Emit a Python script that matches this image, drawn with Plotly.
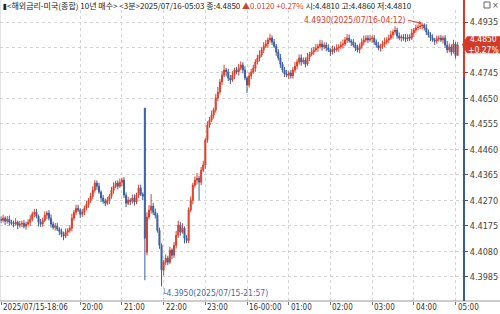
import pandas as pd
import plotly.graph_objects as go

# ---------------- data (3-minute bars, 2025/07/15 18:06 -> 2025/07/16 05:03) ----------------
start_time = "2025-07-15 18:06"
n_bars = 220
times = pd.date_range(start_time, periods=n_bars, freq="3min")

opens = [
    4.4200, 4.4196, 4.4204, 4.4193, 4.4200, 4.4189, 4.4185, 4.4182, 4.4189, 4.4178,
    4.4182, 4.4185, 4.4174, 4.4182, 4.4189, 4.4200, 4.4219, 4.4226, 4.4211, 4.4189,
    4.4182, 4.4196, 4.4215, 4.4223, 4.4204, 4.4182, 4.4170, 4.4174, 4.4163, 4.4155,
    4.4144, 4.4137, 4.4152, 4.4159, 4.4167, 4.4204, 4.4226, 4.4241, 4.4234, 4.4219,
    4.4226, 4.4241, 4.4256, 4.4271, 4.4286, 4.4308, 4.4335, 4.4323, 4.4301, 4.4279,
    4.4267, 4.4260, 4.4271, 4.4286, 4.4308, 4.4323, 4.4335, 4.4323, 4.4338, 4.4346,
    4.4290, 4.4260, 4.4271, 4.4267, 4.4279, 4.4264, 4.4290, 4.4316, 4.4293, 4.4614,
    4.4077, 4.4208, 4.4234, 4.4249, 4.4226, 4.4215, 4.4159, 4.4103, 4.4010, 4.4040,
    4.4055, 4.4040, 4.4085, 4.4066, 4.4103, 4.4140, 4.4178, 4.4152, 4.4167, 4.4129,
    4.4121, 4.4234, 4.4271, 4.4327, 4.4346, 4.4353, 4.4338, 4.4383, 4.4402, 4.4495,
    4.4551, 4.4570, 4.4588, 4.4607, 4.4652, 4.4674, 4.4711, 4.4737, 4.4756, 4.4749,
    4.4726, 4.4719, 4.4737, 4.4756, 4.4749, 4.4763, 4.4775, 4.4756, 4.4726, 4.4700,
    4.4734, 4.4749, 4.4763, 4.4786, 4.4801, 4.4812, 4.4831, 4.4845, 4.4853, 4.4868,
    4.4875, 4.4860, 4.4845, 4.4823, 4.4801, 4.4778, 4.4756, 4.4741, 4.4737, 4.4745,
    4.4734, 4.4756, 4.4771, 4.4786, 4.4801, 4.4786, 4.4793, 4.4778, 4.4804, 4.4816,
    4.4823, 4.4831, 4.4838, 4.4845, 4.4853, 4.4842, 4.4849, 4.4838, 4.4831, 4.4823,
    4.4834, 4.4831, 4.4838, 4.4842, 4.4849, 4.4853, 4.4868, 4.4875, 4.4864, 4.4860,
    4.4849, 4.4838, 4.4831, 4.4845, 4.4860, 4.4868, 4.4875, 4.4868, 4.4872, 4.4875,
    4.4860, 4.4849, 4.4838, 4.4845, 4.4853, 4.4860, 4.4868, 4.4875, 4.4887, 4.4898,
    4.4905, 4.4883, 4.4875, 4.4879, 4.4875, 4.4872, 4.4879, 4.4875, 4.4894, 4.4905,
    4.4913, 4.4916, 4.4920, 4.4924, 4.4913, 4.4898, 4.4887, 4.4875, 4.4868, 4.4864,
    4.4872, 4.4875, 4.4868, 4.4875, 4.4849, 4.4831, 4.4842, 4.4823, 4.4853, 4.4810,
]
highs = [
    4.4211, 4.4217, 4.4211, 4.4212, 4.4214, 4.4198, 4.4195, 4.4204, 4.4195, 4.4194,
    4.4195, 4.4197, 4.4191, 4.4200, 4.4215, 4.4228, 4.4239, 4.4239, 4.4217, 4.4201,
    4.4206, 4.4229, 4.4231, 4.4234, 4.4218, 4.4191, 4.4186, 4.4187, 4.4170, 4.4166,
    4.4154, 4.4166, 4.4167, 4.4178, 4.4220, 4.4235, 4.4254, 4.4254, 4.4240, 4.4238,
    4.4251, 4.4268, 4.4279, 4.4299, 4.4323, 4.4346, 4.4345, 4.4336, 4.4308, 4.4290,
    4.4277, 4.4283, 4.4294, 4.4321, 4.4338, 4.4344, 4.4345, 4.4352, 4.4355, 4.4357,
    4.4300, 4.4284, 4.4278, 4.4292, 4.4293, 4.4299, 4.4329, 4.4329, 4.4300, 4.4614,
    4.4226, 4.4253, 4.4294, 4.4261, 4.4240, 4.4224, 4.4169, 4.4110, 4.4048, 4.4069,
    4.4064, 4.4098, 4.4092, 4.4115, 4.4156, 4.4195, 4.4190, 4.4185, 4.4173, 4.4141,
    4.4244, 4.4285, 4.4336, 4.4360, 4.4372, 4.4362, 4.4395, 4.4418, 4.4502, 4.4565,
    4.4581, 4.4605, 4.4616, 4.4666, 4.4693, 4.4722, 4.4752, 4.4776, 4.4764, 4.4761,
    4.4737, 4.4752, 4.4765, 4.4768, 4.4779, 4.4788, 4.4785, 4.4770, 4.4732, 4.4747,
    4.4760, 4.4776, 4.4796, 4.4814, 4.4829, 4.4841, 4.4860, 4.4868, 4.4877, 4.4891,
    4.4885, 4.4872, 4.4853, 4.4834, 4.4816, 4.4786, 4.4767, 4.4756, 4.4752, 4.4756,
    4.4767, 4.4786, 4.4796, 4.4814, 4.4815, 4.4803, 4.4803, 4.4820, 4.4824, 4.4839,
    4.4842, 4.4853, 4.4854, 4.4869, 4.4867, 4.4859, 4.4859, 4.4852, 4.4837, 4.4847,
    4.4844, 4.4852, 4.4852, 4.4862, 4.4870, 4.4879, 4.4890, 4.4888, 4.4871, 4.4871,
    4.4859, 4.4850, 4.4855, 4.4874, 4.4884, 4.4886, 4.4886, 4.4887, 4.4884, 4.4886,
    4.4870, 4.4861, 4.4854, 4.4866, 4.4877, 4.4878, 4.4888, 4.4902, 4.4907, 4.4919,
    4.4914, 4.4896, 4.4888, 4.4890, 4.4890, 4.4889, 4.4889, 4.4909, 4.4913, 4.4926,
    4.4926, 4.4929, 4.4930, 4.4930, 4.4927, 4.4907, 4.4897, 4.4889, 4.4876, 4.4885,
    4.4885, 4.4887, 4.4884, 4.4886, 4.4864, 4.4855, 4.4852, 4.4869, 4.4860, 4.4860,
]
lows = [
    4.4185, 4.4189, 4.4179, 4.4184, 4.4176, 4.4177, 4.4170, 4.4176, 4.4163, 4.4169,
    4.4171, 4.4166, 4.4161, 4.4173, 4.4176, 4.4192, 4.4207, 4.4204, 4.4173, 4.4172,
    4.4172, 4.4189, 4.4201, 4.4195, 4.4169, 4.4162, 4.4158, 4.4156, 4.4141, 4.4133,
    4.4122, 4.4130, 4.4138, 4.4150, 4.4155, 4.4195, 4.4215, 4.4227, 4.4205, 4.4209,
    4.4216, 4.4233, 4.4243, 4.4261, 4.4274, 4.4299, 4.4310, 4.4295, 4.4264, 4.4258,
    4.4249, 4.4253, 4.4257, 4.4277, 4.4295, 4.4315, 4.4311, 4.4317, 4.4323, 4.4280,
    4.4245, 4.4253, 4.4253, 4.4258, 4.4251, 4.4256, 4.4278, 4.4287, 4.4271, 4.3973,
    4.4066, 4.4200, 4.4221, 4.4216, 4.4203, 4.4150, 4.4090, 4.3950, 4.3991, 4.4029,
    4.4029, 4.4033, 4.4051, 4.4056, 4.4091, 4.4131, 4.4139, 4.4146, 4.4110, 4.4111,
    4.4111, 4.4226, 4.4256, 4.4317, 4.4329, 4.4270, 4.4327, 4.4376, 4.4388, 4.4485,
    4.4541, 4.4562, 4.4575, 4.4597, 4.4640, 4.4665, 4.4700, 4.4730, 4.4732, 4.4715,
    4.4704, 4.4712, 4.4723, 4.4740, 4.4736, 4.4755, 4.4744, 4.4718, 4.4671, 4.4691,
    4.4723, 4.4742, 4.4749, 4.4777, 4.4788, 4.4804, 4.4819, 4.4839, 4.4838, 4.4859,
    4.4849, 4.4838, 4.4809, 4.4792, 4.4764, 4.4747, 4.4730, 4.4729, 4.4723, 4.4724,
    4.4724, 4.4748, 4.4758, 4.4776, 4.4772, 4.4778, 4.4766, 4.4772, 4.4789, 4.4807,
    4.4812, 4.4824, 4.4824, 4.4836, 4.4828, 4.4834, 4.4826, 4.4823, 4.4808, 4.4814,
    4.4820, 4.4824, 4.4824, 4.4833, 4.4836, 4.4845, 4.4856, 4.4858, 4.4845, 4.4840,
    4.4827, 4.4822, 4.4818, 4.4835, 4.4848, 4.4859, 4.4857, 4.4861, 4.4858, 4.4850,
    4.4839, 4.4829, 4.4825, 4.4835, 4.4841, 4.4851, 4.4857, 4.4868, 4.4873, 4.4888,
    4.4873, 4.4867, 4.4862, 4.4865, 4.4860, 4.4863, 4.4864, 4.4868, 4.4880, 4.4895,
    4.4903, 4.4908, 4.4907, 4.4903, 4.4886, 4.4878, 4.4864, 4.4861, 4.4850, 4.4854,
    4.4862, 4.4860, 4.4855, 4.4839, 4.4819, 4.4822, 4.4810, 4.4817, 4.4799, 4.4810,
]
closes = [
    4.4196, 4.4204, 4.4193, 4.4200, 4.4189, 4.4185, 4.4182, 4.4189, 4.4178, 4.4182,
    4.4185, 4.4174, 4.4182, 4.4189, 4.4200, 4.4219, 4.4226, 4.4211, 4.4189, 4.4182,
    4.4196, 4.4215, 4.4223, 4.4204, 4.4182, 4.4170, 4.4174, 4.4163, 4.4155, 4.4144,
    4.4137, 4.4152, 4.4159, 4.4167, 4.4204, 4.4226, 4.4241, 4.4234, 4.4219, 4.4226,
    4.4241, 4.4256, 4.4271, 4.4286, 4.4308, 4.4335, 4.4323, 4.4301, 4.4279, 4.4267,
    4.4260, 4.4271, 4.4286, 4.4308, 4.4323, 4.4335, 4.4323, 4.4338, 4.4346, 4.4290,
    4.4260, 4.4271, 4.4267, 4.4279, 4.4264, 4.4290, 4.4316, 4.4293, 4.4286, 4.4129,
    4.4208, 4.4234, 4.4249, 4.4226, 4.4215, 4.4159, 4.4103, 4.4010, 4.4040, 4.4055,
    4.4040, 4.4085, 4.4066, 4.4103, 4.4140, 4.4178, 4.4152, 4.4167, 4.4129, 4.4121,
    4.4234, 4.4271, 4.4327, 4.4346, 4.4353, 4.4338, 4.4383, 4.4402, 4.4495, 4.4551,
    4.4570, 4.4588, 4.4607, 4.4652, 4.4674, 4.4711, 4.4737, 4.4756, 4.4749, 4.4726,
    4.4719, 4.4737, 4.4756, 4.4749, 4.4763, 4.4775, 4.4756, 4.4726, 4.4700, 4.4734,
    4.4749, 4.4763, 4.4786, 4.4801, 4.4812, 4.4831, 4.4845, 4.4853, 4.4868, 4.4875,
    4.4860, 4.4845, 4.4823, 4.4801, 4.4778, 4.4756, 4.4741, 4.4737, 4.4745, 4.4734,
    4.4756, 4.4771, 4.4786, 4.4801, 4.4786, 4.4793, 4.4778, 4.4804, 4.4816, 4.4823,
    4.4831, 4.4838, 4.4845, 4.4853, 4.4842, 4.4849, 4.4838, 4.4831, 4.4823, 4.4834,
    4.4831, 4.4838, 4.4842, 4.4849, 4.4853, 4.4868, 4.4875, 4.4864, 4.4860, 4.4849,
    4.4838, 4.4831, 4.4845, 4.4860, 4.4868, 4.4875, 4.4868, 4.4872, 4.4875, 4.4860,
    4.4849, 4.4838, 4.4845, 4.4853, 4.4860, 4.4868, 4.4875, 4.4887, 4.4898, 4.4905,
    4.4883, 4.4875, 4.4879, 4.4875, 4.4872, 4.4879, 4.4875, 4.4894, 4.4905, 4.4913,
    4.4916, 4.4920, 4.4924, 4.4913, 4.4898, 4.4887, 4.4875, 4.4868, 4.4864, 4.4872,
    4.4875, 4.4868, 4.4875, 4.4849, 4.4831, 4.4842, 4.4823, 4.4853, 4.4810, 4.4850,
]

prev_close = 4.4730
last_price = 4.4850
high_value, high_time = 4.4930, "2025-07-16 04:12"
low_value, low_time = 4.3950, "2025-07-15 21:57"

ytick_vals = [4.3985, 4.4080, 4.4175, 4.4270, 4.4365, 4.4460, 4.4555, 4.4650, 4.4745, 4.4840, 4.4935]
ytick_hidden = [4.4840]   # covered by the last-price marker in the reference
xtick_times = ["2025-07-15 18:06", "2025-07-15 20:00", "2025-07-15 21:00", "2025-07-15 22:00",
               "2025-07-15 23:00", "2025-07-16 00:00", "2025-07-16 01:00", "2025-07-16 02:00",
               "2025-07-16 03:00", "2025-07-16 04:00", "2025-07-16 05:00"]
xtick_text = ["2025/07/15-18:06", "20:00", "21:00", "22:00", "23:00", "16-00:00",
              "01:00", "02:00", "03:00", "04:00", "05:00"]

header = ("▮<해외금리-미국(종합) 10년 매수> <3분>2025/07/16-05:03 종:4.4850 "
          "<span style='color:#d9402b'>▲0.0120 +0.27%</span> 시:4.4810 고:4.4860 저:4.4810")

# ---------------- styling ----------------
RED = "#d9402b"
BLUE = "#3c5f9e"
W, H = 500, 314
ML, MR, MT, MB = 0, 36, 10, 13
PW, PH = W - ML - MR, H - MT - MB
Y_RANGE = [4.38955, 4.49797]
NUM_FONT = "Liberation Sans Narrow, DejaVu Sans Condensed, Liberation Sans, Arial"

def px_x(p):
    return (p - ML) / PW

def px_y(p):
    return (H - MB - p) / PH

def val_y(v):
    return (v - Y_RANGE[0]) / (Y_RANGE[1] - Y_RANGE[0])

fig = go.Figure()
fig.add_trace(go.Candlestick(
    x=times, open=opens, high=highs, low=lows, close=closes,
    increasing=dict(line=dict(color=RED, width=1), fillcolor=RED),
    decreasing=dict(line=dict(color=BLUE, width=1), fillcolor=BLUE),
    whiskerwidth=0, showlegend=False, hoverinfo="skip",
))

t0 = times[0]
x_range = [t0 - pd.Timedelta(minutes=1.44), t0 + pd.Timedelta(minutes=666.2)]

fig.update_layout(
    width=W, height=H,
    margin=dict(l=ML, r=MR, t=MT, b=MB),
    paper_bgcolor="white", plot_bgcolor="white",
    showlegend=False,
    xaxis=dict(
        type="date", range=x_range, rangeslider=dict(visible=False),
        tickvals=pd.to_datetime(xtick_times), showticklabels=False,
        ticks="outside", ticklen=3, tickcolor="#777",
        showgrid=True, gridcolor="#d4d4d4", griddash="dot", gridwidth=1,
        showline=False, zeroline=False, fixedrange=True,
    ),
    yaxis=dict(
        side="right", range=Y_RANGE,
        tickvals=ytick_vals,
        ticktext=["" if v in ytick_hidden else f"{v:.4f}" for v in ytick_vals],
        ticks="outside", ticklen=3, tickcolor="#555",
        tickfont=dict(family=NUM_FONT, size=9, color="#444"),
        showgrid=True, gridcolor="#d4d4d4", griddash="dot", gridwidth=1,
        showline=False, zeroline=False, fixedrange=True,
    ),
)

shapes = []
shapes.append(dict(type="line", xref="paper", yref="paper", x0=px_x(0), x1=px_x(W),
                   y0=0, y1=0, line=dict(color="#9a9a9a", width=1)))
shapes.append(dict(type="line", xref="paper", yref="paper", x0=0, x1=0,
                   y0=0, y1=px_y(0), line=dict(color="#c8c8c8", width=1)))
pc = val_y(prev_close)
shapes.append(dict(type="line", xref="paper", yref="paper", x0=1.0, x1=1.0,
                   y0=pc, y1=px_y(0), line=dict(color="#d33a2c", width=2)))
shapes.append(dict(type="line", xref="paper", yref="paper", x0=1.0, x1=1.0,
                   y0=0, y1=pc, line=dict(color="#3a5a98", width=2)))
ly = val_y(last_price)
bx0, bx1, tipx = px_x(467), px_x(500), px_x(462)
by_top, by_bot = ly + 8.5 / PH, ly - 8.5 / PH
shapes.append(dict(type="path", xref="paper", yref="paper",
                   path=f"M {tipx},{ly} L {bx0},{by_top} L {bx1},{by_top} L {bx1},{by_bot} L {bx0},{by_bot} Z",
                   fillcolor="#d23a2a", line=dict(width=0)))
shapes.append(dict(type="rect", xref="paper", yref="paper",
                   x0=px_x(484), x1=px_x(490), y0=px_y(8), y1=px_y(2),
                   line=dict(color="#666", width=1), fillcolor="white"))
fig.update_layout(shapes=shapes)

ann = []
ann.append(dict(xref="paper", yref="paper", x=px_x(1), y=px_y(5), xanchor="left", yanchor="middle",
                text=header, showarrow=False,
                font=dict(family="Noto Sans CJK KR, " + NUM_FONT, size=8, color="#222")))
ann.append(dict(xref="paper", yref="paper", x=px_x(496), y=px_y(5), xanchor="center", yanchor="middle",
                text="×", showarrow=False, font=dict(family=NUM_FONT, size=9, color="#555")))
ann.append(dict(xref="paper", yref="paper", x=px_x(483.5), y=ly, xanchor="center", yanchor="middle",
                text="4.4850<br>+0.27%", showarrow=False,
                font=dict(family=NUM_FONT, size=8.5, color="white")))
for t, lab in zip(xtick_times, xtick_text):
    ann.append(dict(xref="x", yref="paper", x=pd.Timestamp(t), y=px_y(307.5),
                    xanchor="left", yanchor="middle", text=lab, showarrow=False,
                    font=dict(family=NUM_FONT, size=8, color="#333")))
ann.append(dict(xref="x", yref="y", x=pd.Timestamp(high_time), y=high_value,
                text="4.4930(2025/07/16-04:12)", showarrow=True, arrowhead=2, arrowsize=0.7,
                arrowwidth=1, arrowcolor=RED, ax=-14, ay=-3, xanchor="right", yanchor="middle",
                font=dict(family=NUM_FONT, size=8.5, color=RED)))
ann.append(dict(xref="x", yref="y", x=pd.Timestamp(low_time), y=low_value,
                text="└4.3950(2025/07/15-21:57)", showarrow=False, xanchor="left", yanchor="top",
                xshift=-2,
                font=dict(family=NUM_FONT, size=8.5, color="#4a6aa5")))
fig.update_layout(annotations=ann)

fig.write_html("out.html")
